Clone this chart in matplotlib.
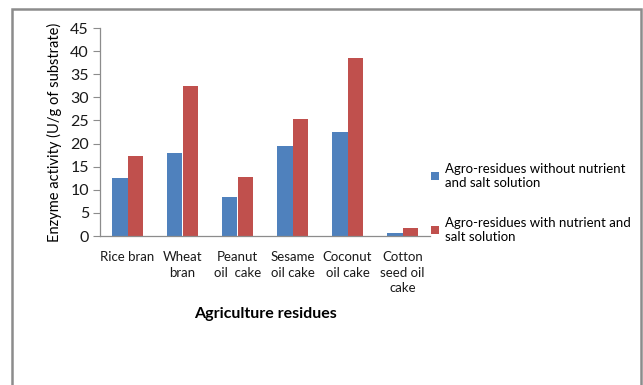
import matplotlib
matplotlib.use("Agg")
import matplotlib.pyplot as plt
from matplotlib.patches import Rectangle
import numpy as np

plt.rcParams['font.family'] = ['Lato', 'DejaVu Sans']

categories = ["Rice bran", "Wheat\nbran", "Peanut\noil  cake", "Sesame\noil cake",
              "Coconut\noil cake", "Cotton\nseed oil\ncake"]
without_nutrient = [12.5, 18.0, 8.5, 19.5, 22.5, 0.7]
with_nutrient = [17.2, 32.5, 12.8, 25.4, 38.5, 1.8]
series_labels = ["Agro-residues without nutrient\nand salt solution",
                 "Agro-residues with nutrient and\nsalt solution"]
y_ticks = [0, 5, 10, 15, 20, 25, 30, 35, 40, 45]

W, H = 643, 385
fig = plt.figure(figsize=(W / 100, H / 100), dpi=100)

# outer chart frame
fig.patches.append(Rectangle((12 / W, -0.05), (641 - 12) / W, 1.05 - 9 / H,
                             transform=fig.transFigure, fill=False,
                             edgecolor="#8c8c8c", linewidth=1.8))

ax = fig.add_axes([100 / W, (H - 236) / H, (430 - 100) / W, (236 - 28) / H])

x = np.arange(len(categories))
bw = 0.285
ax.bar(x - bw / 2, without_nutrient, bw, color="#4F81BD", label=series_labels[0])
ax.bar(x + bw / 2, with_nutrient, bw, color="#C0504D", label=series_labels[1])

ax.set_xlim(-0.5, len(categories) - 0.5)
ax.set_ylim(0, 45)
ax.set_yticks(y_ticks)
ax.set_xticks(x)
ax.set_xticklabels(categories, fontsize=9.5, linespacing=1.35, color="#1a1a1a")
ax.tick_params(axis="x", length=0, pad=11)
ax.tick_params(axis="y", length=5, width=0.8, color="#8c8c8c", labelsize=11.5,
               labelcolor="#1a1a1a", pad=3)

for s in ["top", "right"]:
    ax.spines[s].set_visible(False)
for s in ["left", "bottom"]:
    ax.spines[s].set_color("#8c8c8c")
    ax.spines[s].set_linewidth(0.9)

ax.set_ylabel("Enzyme activity (U/g of substrate)", fontsize=10.5, labelpad=6)
ax.set_xlabel("Agriculture residues", fontsize=11.5, fontweight="bold", labelpad=9)

ax.legend(loc="center left", bbox_to_anchor=(1.0, 0.16), frameon=False,
          fontsize=9.5, handlelength=0.6, handleheight=0.6, handletextpad=0.45,
          labelspacing=2.1, borderaxespad=0.0, borderpad=0.1)

fig.savefig("out.png", dpi=100)
